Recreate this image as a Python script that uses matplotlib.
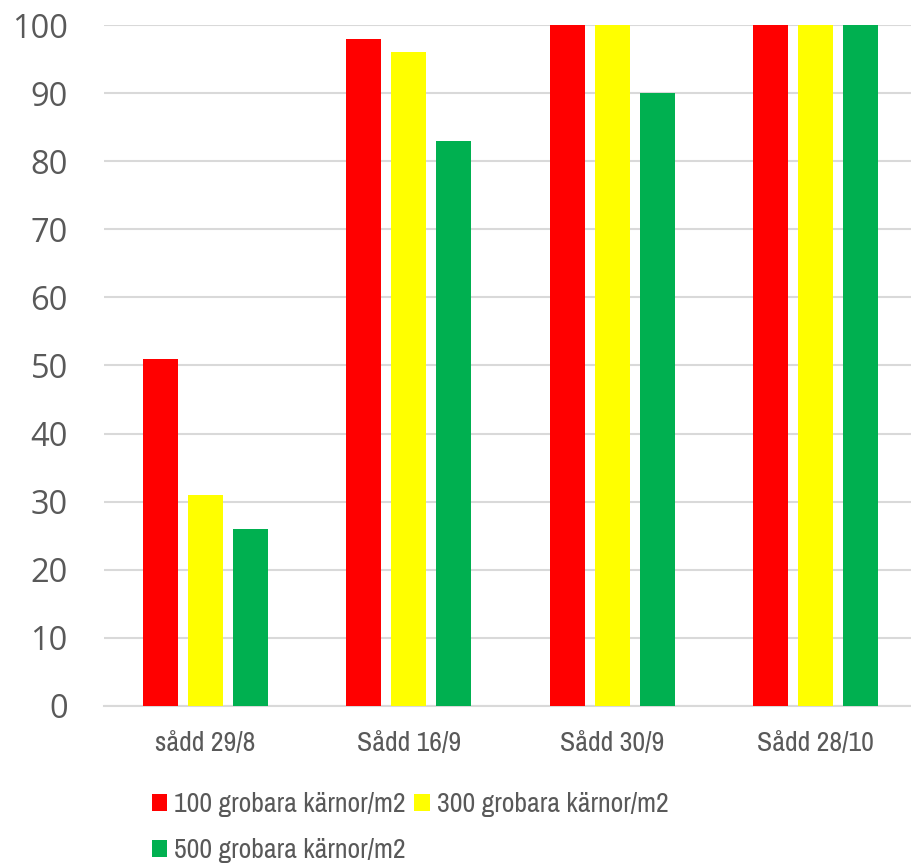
import matplotlib.pyplot as plt
from matplotlib import font_manager
import numpy as np

categories = ['sådd 29/8', 'Sådd 16/9', 'Sådd 30/9', 'Sådd 28/10']
series_names = ['100 grobara kärnor/m2', '300 grobara kärnor/m2', '500 grobara kärnor/m2']
v100 = [51, 98, 100, 100]
v300 = [31, 96, 100, 100]
v500 = [26, 83, 90, 100]
colors = ['#ff0000', '#ffff00', '#00b050']

text_color = '#595959'

# look for a condensed face; fall back to Liberation Sans
names = sorted({f.name for f in font_manager.fontManager.ttflist})
narrow_name = next((n for n in names if 'Narrow' in n or 'Condensed' in n), None)
if narrow_name:
    narrow = [narrow_name, 'DejaVu Sans']
    narrow_size = 20
else:
    narrow = ['Liberation Sans', 'DejaVu Sans']
    narrow_size = 16

fig = plt.figure(figsize=(9.11, 8.63), dpi=100)
ax = fig.add_axes([0.114, 0.182, 0.893, 0.789])

x = np.arange(len(categories))
width = 0.172
offset = 0.221
bars = []
for i, (vals, c) in enumerate(zip([v100, v300, v500], colors)):
    b = ax.bar(x + (i - 1) * offset, vals, width, color=c, label=series_names[i], zorder=3)
    bars.append(b)

ax.set_xlim(-0.5, len(categories) - 0.5)
ax.set_ylim(0, 100)
ax.set_yticks(range(0, 101, 10))
ax.set_yticklabels([str(v) for v in range(0, 101, 10)], family=['Open Sans', 'DejaVu Sans'],
                   fontsize=23.5, color=text_color)
ax.yaxis.grid(True, color='#d9d9d9', linewidth=1.5, zorder=0)
ax.set_axisbelow(True)

for s in ['left', 'right', 'top']:
    ax.spines[s].set_visible(False)
ax.spines['bottom'].set_color('#d9d9d9')
ax.spines['bottom'].set_linewidth(1.5)
ax.tick_params(axis='both', length=0)
ax.tick_params(axis='y', pad=26)

ax.set_xticks(x)
ax.set_xticklabels(categories, fontsize=narrow_size, color=text_color, family=narrow)
ax.tick_params(axis='x', pad=18)

# row-wise legend order: red, yellow on first row, green on second
handles = [bars[0], bars[2], bars[1]]
labels = [series_names[0], series_names[2], series_names[1]]
fig.legend(handles, labels, ncol=2, loc='upper left', bbox_to_anchor=(0.167, 0.082),
           frameon=False, prop={'family': narrow, 'size': narrow_size},
           handlelength=0.55, handleheight=0.55, handletextpad=0.25,
           columnspacing=0.3, labelspacing=0.75, borderaxespad=0, borderpad=0,
           labelcolor=text_color)

fig.savefig('out.png', dpi=100)
